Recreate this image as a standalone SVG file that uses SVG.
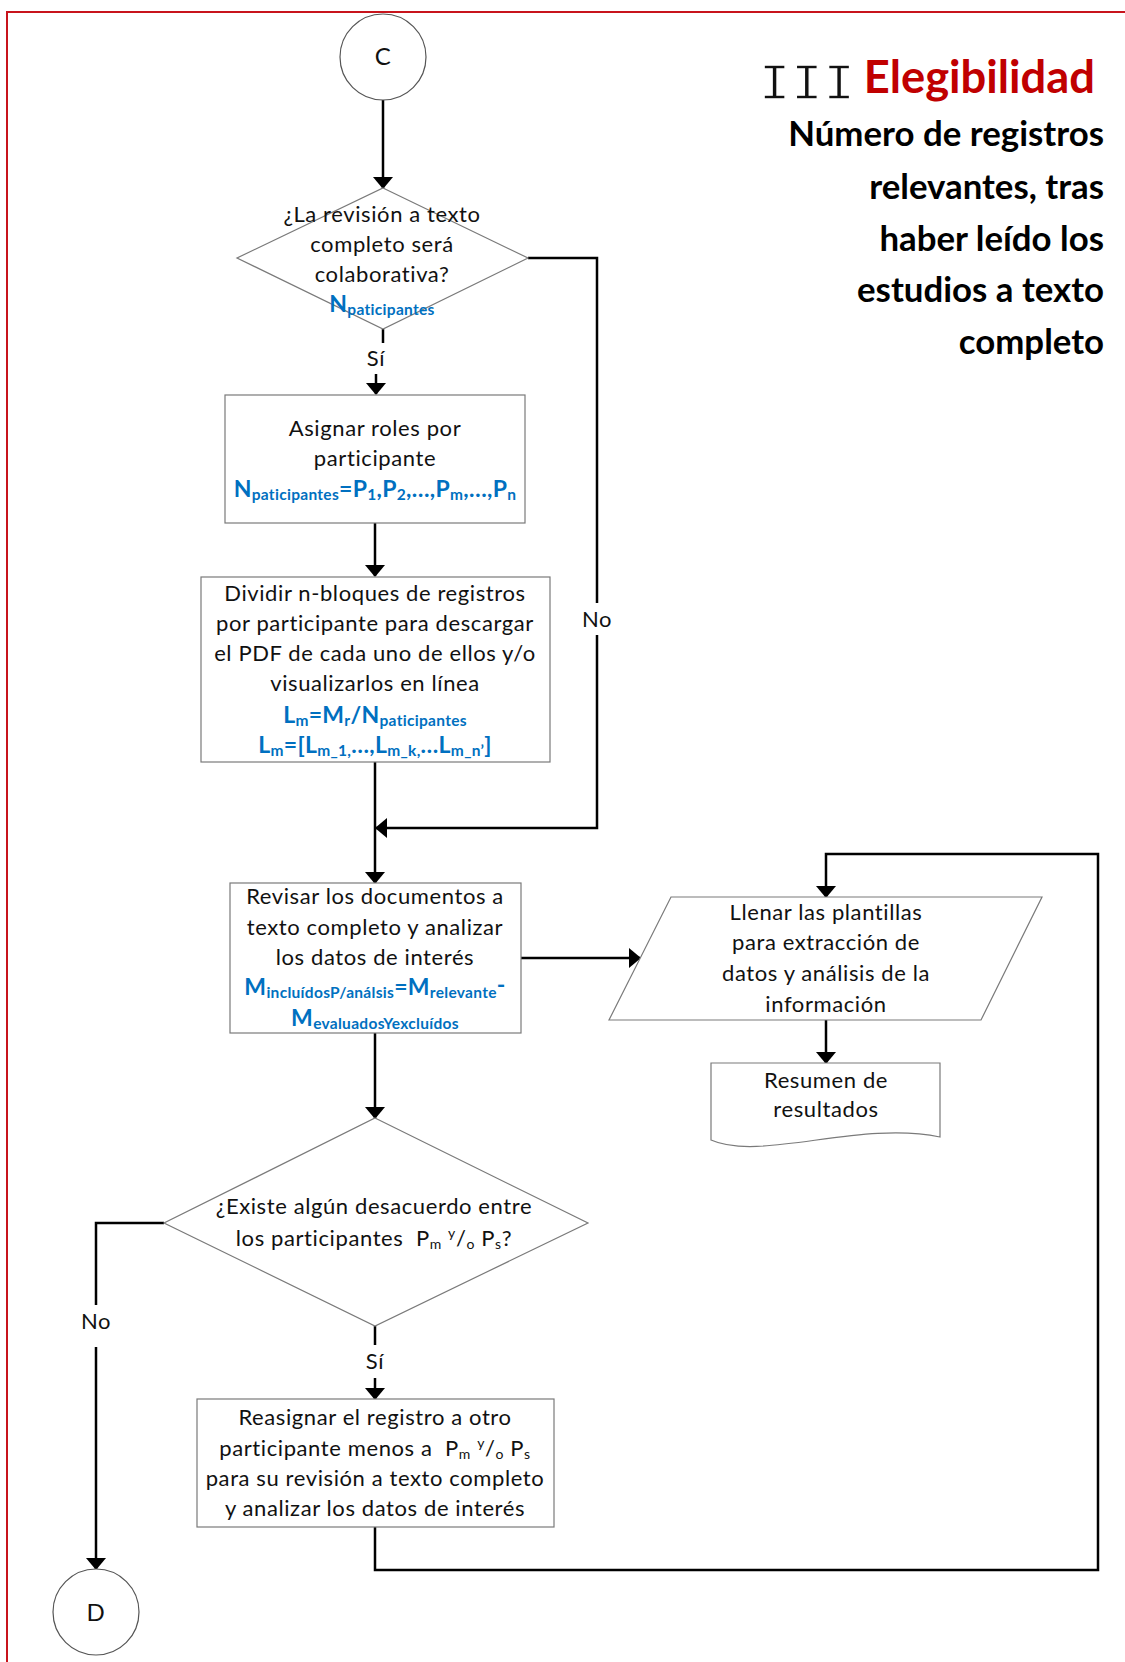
<svg xmlns="http://www.w3.org/2000/svg" width="1125" height="1662" viewBox="0 0 1125 1662">
  <style>
    .shape { fill: #ffffff; stroke: #7a7a7a; stroke-width: 1.2; }
    .ring { fill: #ffffff; stroke: #555555; stroke-width: 1.2; }
    .wire { fill: none; stroke: #000000; stroke-width: 2.5; }
    .t { font-family: Lato, "Liberation Sans", sans-serif; font-size: 22px; letter-spacing: 0.6px; fill: #111111; text-anchor: middle; }
    .f { font-family: Lato, "Liberation Sans", sans-serif; font-size: 23px; letter-spacing: 0.3px; font-weight: 700; fill: #0070C0; text-anchor: middle; }
    .s { font-size: 15.5px; }
    .ss { font-size: 14px; }
    .lbl { font-family: Lato, "Liberation Sans", sans-serif; font-size: 22px; letter-spacing: 0.6px; fill: #111111; text-anchor: middle; }
    .hd { font-family: Lato, "Liberation Sans", sans-serif; font-size: 34.8px; font-weight: 700; fill: #000000; text-anchor: end; }
    .ttl { font-family: Lato, "Liberation Sans", sans-serif; font-size: 45.3px; font-weight: 700; fill: #C00000; text-anchor: end; }
    .rn { font-family: "Liberation Mono", "DejaVu Sans Mono", monospace; font-size: 52px; fill: #111111; stroke: #ffffff; stroke-width: 1.3px; }
  </style>
  <defs>
    <marker id="arrow" viewBox="0 0 12 20" refX="11" refY="10" markerWidth="12" markerHeight="20" markerUnits="userSpaceOnUse" orient="auto">
      <path d="M0,0 L12,10 L0,20 z" fill="#000000"/>
    </marker>
  </defs>

  <rect width="1125" height="1662" fill="#ffffff"/>
  <!-- page frame -->
  <rect x="7" y="12" width="1200" height="1720" fill="none" stroke="#C8141C" stroke-width="2"/>

  <!-- heading -->
  <g id="heading">
    <text class="rn" x="759" y="99" letter-spacing="1">III</text>
    <text class="ttl" x="1095" y="93">Elegibilidad</text>
    <text class="hd" x="1104" y="146">Número de registros</text>
    <text class="hd" x="1104" y="199">relevantes, tras</text>
    <text class="hd" x="1104" y="251">haber leído los</text>
    <text class="hd" x="1104" y="302">estudios a texto</text>
    <text class="hd" x="1104" y="354">completo</text>
  </g>

  <!-- connectors -->
  <g id="connectors">
    <path class="wire" d="M383,100 V188" marker-end="url(#arrow)"/>
    <path class="wire" d="M383,329 V343"/>
    <path class="wire" d="M376,374 V394" marker-end="url(#arrow)"/>
    <path class="wire" d="M375,523 V576" marker-end="url(#arrow)"/>
    <path class="wire" d="M528,258 H597 V603"/>
    <path class="wire" d="M597,635 V828 H376" marker-end="url(#arrow)"/>
    <path class="wire" d="M375,762 V883" marker-end="url(#arrow)"/>
    <path class="wire" d="M521,958 H640" marker-end="url(#arrow)"/>
    <path class="wire" d="M826,1020 V1063" marker-end="url(#arrow)"/>
    <path class="wire" d="M375,1033 V1118" marker-end="url(#arrow)"/>
    <path class="wire" d="M164,1223 H96 V1305"/>
    <path class="wire" d="M96,1347 V1569" marker-end="url(#arrow)"/>
    <path class="wire" d="M375,1326 V1345"/>
    <path class="wire" d="M375,1378 V1399" marker-end="url(#arrow)"/>
    <path class="wire" d="M375,1527 V1570 H1098 V854 H826 V897" marker-end="url(#arrow)"/>
    <text class="lbl" x="376" y="366">Sí</text>
    <text class="lbl" x="597" y="627">No</text>
    <text class="lbl" x="96" y="1329">No</text>
    <text class="lbl" x="375" y="1369">Sí</text>
  </g>

  <!-- start connector C -->
  <g id="node-c">
    <ellipse class="ring" cx="383" cy="57" rx="43" ry="43"/>
    <text class="t" x="383" y="65" style="font-size:24px">C</text>
  </g>

  <!-- decision: collaborative review -->
  <g id="node-collab">
    <polygon class="shape" points="383,188 528,258 383,329 237,258"/>
    <text class="t" x="382" y="222">¿La revisión a texto</text>
    <text class="t" x="382" y="252">completo será</text>
    <text class="t" x="382" y="282">colaborativa?</text>
    <text class="f" x="382" y="312">N<tspan class="s" dy="3">paticipantes</tspan></text>
  </g>

  <!-- assign roles -->
  <g id="node-roles">
    <rect class="shape" x="225" y="395" width="300" height="128"/>
    <text class="t" x="375" y="436">Asignar roles por</text>
    <text class="t" x="375" y="466">participante</text>
    <text class="f" x="375" y="497">N<tspan class="s" dy="3">paticipantes</tspan><tspan dy="-3">=P</tspan><tspan class="s" dy="3">1</tspan><tspan dy="-3">,P</tspan><tspan class="s" dy="3">2</tspan><tspan dy="-3">,…,P</tspan><tspan class="s" dy="3">m</tspan><tspan dy="-3">,…,P</tspan><tspan class="s" dy="3">n</tspan></text>
  </g>

  <!-- split blocks -->
  <g id="node-split">
    <rect class="shape" x="201" y="577" width="349" height="185"/>
    <text class="t" x="375" y="601">Dividir n-bloques de registros</text>
    <text class="t" x="375" y="631">por participante para descargar</text>
    <text class="t" x="375" y="661">el PDF de cada uno de ellos y/o</text>
    <text class="t" x="375" y="691">visualizarlos en línea</text>
    <text class="f" x="375" y="723">L<tspan class="s" dy="3">m</tspan><tspan dy="-3">=M</tspan><tspan class="s" dy="3">r</tspan><tspan dy="-3">/N</tspan><tspan class="s" dy="3">paticipantes</tspan></text>
    <text class="f" x="375" y="753">L<tspan class="s" dy="3">m</tspan><tspan dy="-3">=[L</tspan><tspan class="s" dy="3">m_1,</tspan><tspan dy="-3">…,L</tspan><tspan class="s" dy="3">m_k,</tspan><tspan dy="-3">…L</tspan><tspan class="s" dy="3">m_n’</tspan><tspan dy="-3">]</tspan></text>
  </g>

  <!-- full-text review -->
  <g id="node-review">
    <rect class="shape" x="230" y="883" width="291" height="150"/>
    <text class="t" x="375" y="904">Revisar los documentos a</text>
    <text class="t" x="375" y="935">texto completo y analizar</text>
    <text class="t" x="375" y="965">los datos de interés</text>
    <text class="f" x="375" y="995">M<tspan class="s" dy="3">incluídosP/análsis</tspan><tspan dy="-3">=M</tspan><tspan class="s" dy="3">relevante</tspan><tspan dy="-5">-</tspan></text>
    <text class="f" x="375" y="1026">M<tspan class="s" dy="3">evaluadosYexcluídos</tspan></text>
  </g>

  <!-- data extraction templates -->
  <g id="node-templates">
    <polygon class="shape" points="671,897 1042,897 981,1020 609,1020"/>
    <text class="t" x="826" y="920">Llenar las plantillas</text>
    <text class="t" x="826" y="950">para extracción de</text>
    <text class="t" x="826" y="981">datos y análisis de la</text>
    <text class="t" x="826" y="1012">información</text>
  </g>

  <!-- results summary document -->
  <g id="node-summary">
    <path class="shape" d="M711,1063 H940 V1137 C860,1120 760,1162 711,1140 Z"/>
    <text class="t" x="826" y="1088">Resumen de</text>
    <text class="t" x="826" y="1117">resultados</text>
  </g>

  <!-- decision: disagreement -->
  <g id="node-disagree">
    <polygon class="shape" points="375,1118 588,1223 375,1326 164,1223"/>
    <text class="t" x="374" y="1214">¿Existe algún desacuerdo entre</text>
    <text class="t" x="374" y="1246" style="white-space:pre">los participantes  P<tspan class="ss" dy="3">m</tspan><tspan dy="-3"> </tspan><tspan class="ss" dy="-8">y</tspan><tspan dy="8">/</tspan><tspan class="ss" dy="3">o</tspan><tspan dy="-3"> P</tspan><tspan class="ss" dy="3">s</tspan><tspan dy="-3">?</tspan></text>
  </g>

  <!-- reassign record -->
  <g id="node-reassign">
    <rect class="shape" x="197" y="1399" width="357" height="128"/>
    <text class="t" x="375" y="1425">Reasignar el registro a otro</text>
    <text class="t" x="375" y="1456" style="white-space:pre">participante menos a  P<tspan class="ss" dy="3">m</tspan><tspan dy="-3"> </tspan><tspan class="ss" dy="-8">y</tspan><tspan dy="8">/</tspan><tspan class="ss" dy="3">o</tspan><tspan dy="-3"> P</tspan><tspan class="ss" dy="3">s</tspan></text>
    <text class="t" x="375" y="1486">para su revisión a texto completo</text>
    <text class="t" x="375" y="1516">y analizar los datos de interés</text>
  </g>

  <!-- end connector D -->
  <g id="node-d">
    <ellipse class="ring" cx="96" cy="1612" rx="43" ry="43"/>
    <text class="t" x="96" y="1621" style="font-size:24px">D</text>
  </g>
</svg>
